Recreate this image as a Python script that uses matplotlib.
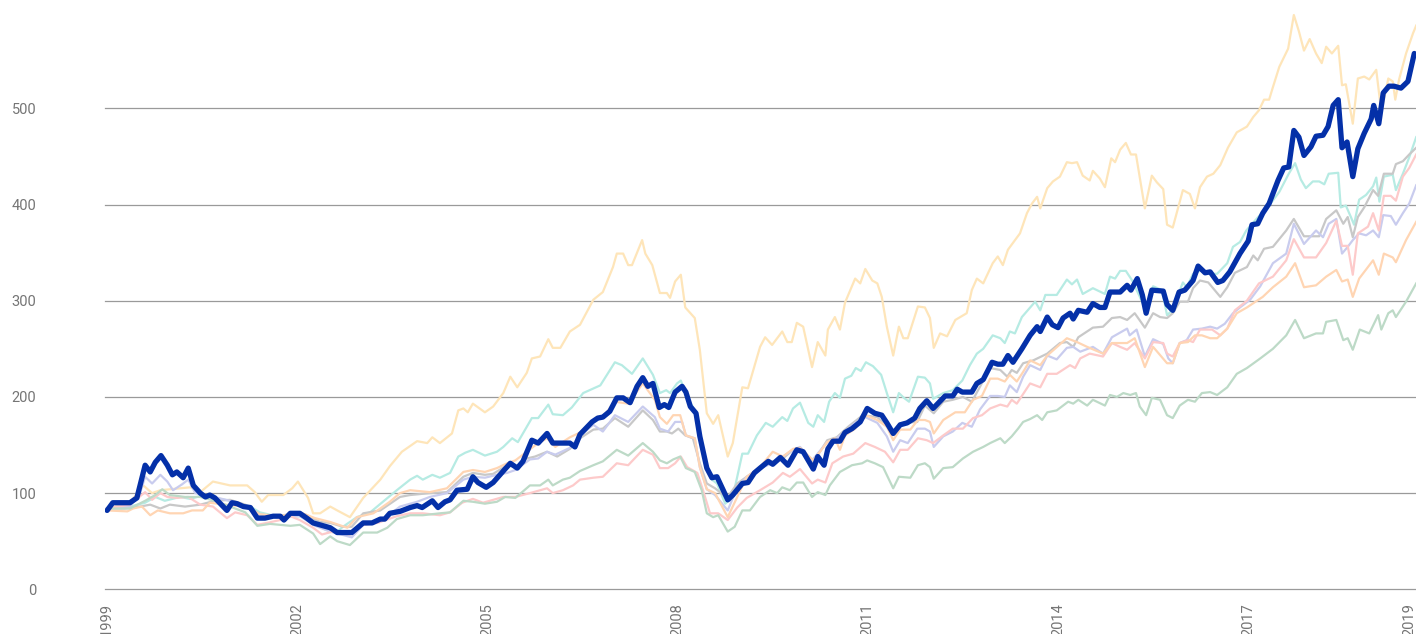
import matplotlib
matplotlib.use("Agg")
import matplotlib.pyplot as plt

plt.rcParams['font.family'] = ['Roboto', 'DejaVu Sans']

# ---- data (index values) ----
main_years = [1999.00, 1999.09, 1999.36, 1999.47, 1999.60, 1999.68, 1999.76, 1999.85, 1999.95, 2000.03,
              2000.10, 2000.20, 2000.28, 2000.36, 2000.47, 2000.55, 2000.62, 2000.70, 2000.89, 2000.97,
              2001.05, 2001.15, 2001.26, 2001.37, 2001.49, 2001.62, 2001.73, 2001.79, 2001.89, 2002.04,
              2002.15, 2002.25, 2002.41, 2002.52, 2002.63, 2002.86, 2003.04, 2003.18, 2003.31, 2003.38,
              2003.46, 2003.62, 2003.78, 2003.89, 2003.97, 2004.13, 2004.22, 2004.33, 2004.41, 2004.52,
              2004.68, 2004.77, 2004.85, 2004.98, 2005.09, 2005.25, 2005.36, 2005.47, 2005.56, 2005.70,
              2005.80, 2005.94, 2006.03, 2006.30, 2006.38, 2006.46, 2006.65, 2006.74, 2006.82, 2006.93,
              2007.04, 2007.14, 2007.25, 2007.36, 2007.45, 2007.53, 2007.61, 2007.71, 2007.79, 2007.86,
              2007.96, 2008.07, 2008.13, 2008.20, 2008.29, 2008.35, 2008.46, 2008.54, 2008.62, 2008.72,
              2008.79, 2008.87, 2009.02, 2009.11, 2009.21, 2009.30, 2009.43, 2009.50, 2009.62, 2009.74,
              2009.88, 2009.98, 2010.14, 2010.21, 2010.31, 2010.37, 2010.45, 2010.56, 2010.64, 2010.75,
              2010.88, 2010.99, 2011.11, 2011.22, 2011.30, 2011.40, 2011.51, 2011.62, 2011.74, 2011.82,
              2011.93, 2012.03, 2012.22, 2012.34, 2012.41, 2012.49, 2012.64, 2012.72, 2012.82, 2012.96,
              2013.05, 2013.13, 2013.21, 2013.29, 2013.43, 2013.56, 2013.67, 2013.72, 2013.83, 2013.91,
              2014.00, 2014.08, 2014.19, 2014.24, 2014.32, 2014.46, 2014.55, 2014.66, 2014.74, 2014.82,
              2014.98, 2015.09, 2015.15, 2015.25, 2015.33, 2015.39, 2015.48, 2015.66, 2015.72, 2015.81,
              2015.91, 2016.00, 2016.13, 2016.21, 2016.32, 2016.40, 2016.52, 2016.60, 2016.71, 2016.87,
              2017.00, 2017.06, 2017.15, 2017.23, 2017.33, 2017.47, 2017.56, 2017.64, 2017.72, 2017.80,
              2017.88, 2017.99, 2018.07, 2018.18, 2018.26, 2018.34, 2018.42, 2018.48, 2018.56, 2018.65,
              2018.73, 2018.83, 2018.94, 2018.98, 2019.06, 2019.13, 2019.22, 2019.30, 2019.41, 2019.52,
              2019.62]
main_vals = [82, 90, 90, 95, 129, 122, 132, 139, 129, 119,
             122, 116, 126, 108, 100, 96, 98, 95, 82, 90,
             89, 86, 85, 74, 74, 76, 76, 72, 79, 79,
             74, 69, 66, 64, 59, 59, 69, 69, 73, 73,
             79, 81, 85, 87, 85, 92, 85, 91, 93, 103,
             104, 117, 111, 106, 111, 123, 131, 126, 133, 155,
             152, 162, 152, 152, 148, 161, 174, 178, 179, 185,
             199, 199, 194, 211, 220, 211, 214, 189, 192, 189,
             205, 211, 205, 190, 183, 159, 126, 116, 117, 103,
             93, 98, 110, 111, 121, 126, 133, 130, 137, 129,
             145, 143, 125, 138, 129, 146, 154, 154, 163, 167,
             174, 188, 183, 181, 173, 162, 171, 173, 178, 188,
             196, 188, 201, 201, 208, 205, 205, 214, 218, 236,
             234, 234, 243, 236, 250, 264, 273, 268, 283, 275,
             272, 282, 287, 281, 290, 288, 297, 293, 293, 309,
             309, 316, 311, 323, 306, 287, 311, 310, 296, 290,
             309, 311, 321, 336, 329, 330, 319, 321, 330, 349,
             362, 379, 380, 391, 401, 425, 438, 439, 477, 470,
             451, 460, 471, 472, 481, 503, 509, 459, 465, 429,
             458, 474, 489, 503, 484, 516, 523, 523, 521, 528,
             557]

amber_years = [1999.00, 1999.36, 1999.57, 1999.71, 1999.84, 2000.31, 2000.47, 2000.67, 2000.94, 2001.21,
               2001.33, 2001.44, 2001.54, 2001.78, 2001.92, 2002.01, 2002.17, 2002.25, 2002.36, 2002.52,
               2002.63, 2002.83, 2003.04, 2003.31, 2003.46, 2003.65, 2003.89, 2004.05, 2004.13, 2004.25,
               2004.44, 2004.54, 2004.62, 2004.69, 2004.77, 2004.96, 2005.09, 2005.25, 2005.36, 2005.47,
               2005.62, 2005.70, 2005.83, 2005.96, 2006.03, 2006.15, 2006.30, 2006.46, 2006.67, 2006.82,
               2006.98, 2007.04, 2007.14, 2007.22, 2007.28, 2007.44, 2007.49, 2007.60, 2007.72, 2007.83,
               2007.88, 2007.96, 2008.05, 2008.12, 2008.27, 2008.35, 2008.46, 2008.56, 2008.64, 2008.79,
               2008.87, 2009.02, 2009.11, 2009.30, 2009.38, 2009.49, 2009.65, 2009.73, 2009.80, 2009.88,
               2009.98, 2010.12, 2010.21, 2010.33, 2010.37, 2010.48, 2010.56, 2010.64, 2010.80, 2010.88,
               2010.96, 2011.07, 2011.15, 2011.22, 2011.30, 2011.40, 2011.49, 2011.56, 2011.63, 2011.79,
               2011.90, 2011.98, 2012.04, 2012.14, 2012.25, 2012.38, 2012.56, 2012.64, 2012.72, 2012.82,
               2012.97, 2013.05, 2013.13, 2013.21, 2013.40, 2013.51, 2013.59, 2013.67, 2013.72, 2013.83,
               2013.92, 2014.03, 2014.14, 2014.22, 2014.30, 2014.39, 2014.50, 2014.55, 2014.66, 2014.74,
               2014.84, 2014.90, 2014.98, 2015.07, 2015.15, 2015.23, 2015.37, 2015.48, 2015.56, 2015.66,
               2015.72, 2015.81, 2015.97, 2016.08, 2016.16, 2016.24, 2016.35, 2016.45, 2016.56, 2016.68,
               2016.82, 2016.98, 2017.08, 2017.17, 2017.25, 2017.33, 2017.39, 2017.49, 2017.63, 2017.72,
               2017.80, 2017.88, 2017.97, 2018.07, 2018.16, 2018.23, 2018.32, 2018.42, 2018.48, 2018.54,
               2018.65, 2018.73, 2018.83, 2018.91, 2019.02, 2019.10, 2019.21, 2019.28, 2019.32, 2019.38,
               2019.49, 2019.60, 2019.65]
amber_vals = [84, 90, 108, 100, 103, 106, 101, 112, 108, 108,
              101, 91, 98, 98, 105, 112, 95, 79, 79, 86,
              82, 75, 95, 114, 128, 143, 154, 152, 158, 152,
              162, 186, 188, 184, 193, 184, 190, 204, 221, 210,
              225, 240, 242, 260, 251, 251, 268, 275, 301, 309,
              335, 349, 349, 337, 337, 363, 349, 337, 308, 308,
              303, 320, 327, 293, 282, 249, 183, 172, 181, 138,
              152, 210, 209, 252, 262, 254, 268, 257, 257, 277,
              273, 231, 257, 243, 270, 283, 270, 298, 323, 318,
              333, 321, 318, 304, 273, 243, 273, 261, 261, 294,
              293, 282, 251, 266, 263, 280, 287, 311, 323, 318,
              339, 346, 337, 353, 370, 391, 401, 408, 396, 417,
              424, 429, 444, 443, 444, 430, 425, 435, 427, 418,
              448, 444, 457, 464, 452, 452, 396, 430, 423, 416,
              379, 376, 415, 411, 396, 418, 429, 432, 441, 459,
              475, 481, 491, 498, 509, 509, 522, 543, 562, 597,
              580, 560, 572, 557, 547, 564, 557, 565, 524, 525,
              484, 531, 533, 530, 540, 496, 531, 528, 509, 530,
              557, 578, 586]

teal_years = [1999.00, 1999.36, 1999.60, 1999.76, 1999.91, 2000.15, 2000.31, 2000.47, 2000.70, 2000.94,
              2001.26, 2001.41, 2001.73, 2002.04, 2002.28, 2002.44, 2002.63, 2002.72, 2002.94, 2003.15,
              2003.35, 2003.57, 2003.78, 2003.89, 2003.98, 2004.13, 2004.25, 2004.41, 2004.54, 2004.65,
              2004.77, 2004.96, 2005.15, 2005.25, 2005.39, 2005.48, 2005.70, 2005.80, 2005.96, 2006.03,
              2006.19, 2006.33, 2006.51, 2006.78, 2007.01, 2007.12, 2007.28, 2007.45, 2007.61, 2007.72,
              2007.82, 2007.88, 2007.99, 2008.05, 2008.15, 2008.27, 2008.35, 2008.43, 2008.54, 2008.62,
              2008.75, 2008.87, 2009.02, 2009.11, 2009.25, 2009.39, 2009.50, 2009.65, 2009.73, 2009.82,
              2009.93, 2010.06, 2010.14, 2010.21, 2010.31, 2010.39, 2010.48, 2010.56, 2010.64, 2010.74,
              2010.81, 2010.89, 2010.97, 2011.08, 2011.21, 2011.30, 2011.40, 2011.49, 2011.57, 2011.65,
              2011.79, 2011.90, 2011.98, 2012.03, 2012.19, 2012.34, 2012.49, 2012.61, 2012.72, 2012.82,
              2012.97, 2013.09, 2013.16, 2013.24, 2013.32, 2013.43, 2013.56, 2013.64, 2013.72, 2013.80,
              2013.98, 2014.14, 2014.22, 2014.30, 2014.39, 2014.55, 2014.74, 2014.82, 2014.90, 2014.98,
              2015.07, 2015.17, 2015.29, 2015.39, 2015.50, 2015.64, 2015.72, 2015.80, 2015.97, 2016.03,
              2016.13, 2016.27, 2016.37, 2016.51, 2016.67, 2016.76, 2016.87, 2016.97, 2017.13, 2017.33,
              2017.49, 2017.64, 2017.74, 2017.83, 2017.91, 2018.02, 2018.12, 2018.20, 2018.27, 2018.42,
              2018.46, 2018.54, 2018.62, 2018.67, 2018.75, 2018.86, 2018.97, 2019.02, 2019.07, 2019.14,
              2019.28, 2019.33, 2019.44, 2019.54, 2019.65]
teal_vals = [84, 86, 90, 96, 92, 96, 94, 97, 95, 92,
             86, 80, 75, 76, 70, 62, 60, 65, 75, 80,
             91, 103, 114, 118, 114, 119, 116, 121, 138, 142,
             145, 139, 143, 148, 157, 153, 178, 178, 192, 182,
             181, 189, 204, 212, 236, 233, 224, 240, 223, 204,
             207, 204, 214, 217, 200, 186, 165, 131, 114, 110,
             89, 96, 141, 141, 160, 173, 169, 179, 175, 188,
             194, 173, 169, 181, 174, 195, 204, 199, 219, 222,
             230, 227, 236, 232, 223, 204, 184, 204, 199, 195,
             221, 220, 214, 198, 204, 207, 217, 233, 245, 250,
             264, 261, 256, 268, 266, 283, 293, 299, 290, 306,
             306, 322, 317, 322, 307, 313, 307, 325, 323, 331,
             331, 321, 304, 290, 315, 311, 285, 290, 319, 314,
             328, 332, 328, 328, 339, 356, 361, 373, 385, 399,
             413, 432, 443, 426, 417, 424, 424, 421, 432, 433,
             397, 399, 387, 379, 405, 410, 419, 428, 403, 429,
             431, 415, 432, 449, 470]

grey_years = [1999.00, 1999.28, 1999.52, 1999.68, 1999.84, 1999.99, 2000.23, 2000.47, 2000.70, 2000.94,
              2001.18, 2001.41, 2001.65, 2001.89, 2002.12, 2002.36, 2002.52, 2002.72, 2002.86, 2003.04,
              2003.31, 2003.62, 2003.78, 2004.09, 2004.36, 2004.62, 2004.77, 2004.96, 2005.09, 2005.31,
              2005.44, 2005.62, 2005.75, 2005.94, 2006.10, 2006.30, 2006.46, 2006.67, 2006.82, 2007.01,
              2007.22, 2007.45, 2007.61, 2007.72, 2007.83, 2007.91, 2008.01, 2008.12, 2008.24, 2008.35,
              2008.46, 2008.59, 2008.78, 2008.94, 2009.09, 2009.30, 2009.50, 2009.66, 2009.82, 2009.93,
              2010.14, 2010.36, 2010.51, 2010.69, 2010.92, 2011.15, 2011.38, 2011.56, 2011.78, 2011.90,
              2012.04, 2012.19, 2012.34, 2012.50, 2012.64, 2012.74, 2012.93, 2013.09, 2013.20, 2013.27,
              2013.35, 2013.45, 2013.61, 2013.83, 2014.03, 2014.14, 2014.24, 2014.32, 2014.55, 2014.71,
              2014.85, 2014.98, 2015.09, 2015.21, 2015.37, 2015.50, 2015.61, 2015.72, 2015.81, 2015.92,
              2016.05, 2016.13, 2016.24, 2016.37, 2016.56, 2016.67, 2016.79, 2016.98, 2017.08, 2017.15,
              2017.25, 2017.39, 2017.60, 2017.72, 2017.88, 2018.12, 2018.23, 2018.39, 2018.50, 2018.57,
              2018.65, 2018.73, 2018.83, 2018.97, 2019.05, 2019.14, 2019.28, 2019.33, 2019.44, 2019.54,
              2019.65]
grey_vals = [84, 84, 86, 88, 84, 88, 86, 88, 92, 93,
             88, 78, 76, 78, 78, 70, 69, 65, 65, 79,
             82, 96, 98, 100, 101, 117, 121, 119, 120, 129,
             127, 136, 138, 143, 138, 146, 157, 166, 167, 178,
             169, 186, 176, 164, 164, 162, 167, 160, 157, 131,
             110, 105, 95, 110, 117, 126, 133, 136, 145, 147,
             132, 155, 158, 169, 181, 179, 164, 173, 174, 191,
             183, 195, 197, 200, 195, 207, 230, 228, 221, 228,
             225, 235, 238, 245, 256, 257, 252, 262, 272, 273,
             282, 283, 280, 287, 272, 287, 283, 282, 287, 299,
             299, 313, 321, 319, 304, 314, 329, 335, 347, 342,
             354, 356, 373, 385, 367, 367, 385, 394, 380, 387,
             366, 387, 397, 415, 409, 432, 432, 442, 445, 452,
             459]

lilac_years = [1999.00, 1999.36, 1999.52, 1999.60, 1999.71, 1999.84, 1999.95, 2000.04, 2000.18, 2000.28,
               2000.39, 2000.62, 2000.94, 2001.18, 2001.41, 2001.73, 2002.04, 2002.28, 2002.52, 2002.86,
               2003.04, 2003.31, 2003.62, 2003.89, 2004.09, 2004.36, 2004.62, 2004.77, 2004.96, 2005.15,
               2005.31, 2005.44, 2005.67, 2005.80, 2005.94, 2006.07, 2006.30, 2006.46, 2006.67, 2006.82,
               2007.01, 2007.22, 2007.45, 2007.64, 2007.72, 2007.85, 2007.96, 2008.07, 2008.13, 2008.27,
               2008.35, 2008.46, 2008.59, 2008.79, 2008.94, 2009.09, 2009.30, 2009.50, 2009.66, 2009.82,
               2009.93, 2010.12, 2010.36, 2010.51, 2010.64, 2010.80, 2010.96, 2011.15, 2011.30, 2011.40,
               2011.51, 2011.63, 2011.78, 2011.90, 2011.98, 2012.04, 2012.19, 2012.34, 2012.49, 2012.64,
               2012.77, 2012.93, 2013.05, 2013.16, 2013.24, 2013.35, 2013.45, 2013.56, 2013.72, 2013.83,
               2013.98, 2014.14, 2014.24, 2014.35, 2014.55, 2014.71, 2014.85, 2015.09, 2015.13, 2015.24,
               2015.37, 2015.50, 2015.66, 2015.74, 2015.81, 2015.92, 2016.03, 2016.13, 2016.27, 2016.40,
               2016.51, 2016.63, 2016.76, 2016.87, 2017.03, 2017.19, 2017.39, 2017.60, 2017.72, 2017.88,
               2018.07, 2018.18, 2018.27, 2018.39, 2018.48, 2018.57, 2018.65, 2018.75, 2018.86, 2018.97,
               2019.06, 2019.13, 2019.25, 2019.33, 2019.44, 2019.54, 2019.65]
lilac_vals = [84, 86, 100, 117, 110, 119, 112, 103, 109, 114,
              100, 97, 92, 86, 75, 76, 76, 66, 60, 54,
              67, 70, 86, 91, 96, 100, 114, 117, 116, 119,
              121, 124, 135, 136, 143, 140, 147, 160, 171, 164,
              181, 174, 190, 179, 167, 164, 174, 174, 160, 157,
              127, 104, 98, 82, 106, 117, 126, 131, 138, 145,
              148, 134, 153, 157, 164, 173, 179, 173, 159, 143,
              155, 152, 167, 167, 164, 148, 159, 164, 173, 169,
              187, 201, 201, 200, 212, 205, 221, 233, 228, 243,
              239, 251, 252, 247, 252, 245, 262, 271, 264, 270,
              242, 260, 255, 240, 235, 256, 259, 270, 271, 273,
              271, 276, 287, 293, 301, 315, 339, 349, 380, 359,
              373, 366, 380, 385, 349, 356, 363, 370, 368, 373,
              366, 389, 388, 379, 391, 401, 420]

rose_years = [1999.00, 1999.36, 1999.60, 1999.71, 1999.84, 1999.95, 2000.10, 2000.28, 2000.47, 2000.67,
              2000.89, 2001.02, 2001.21, 2001.37, 2001.52, 2001.73, 2001.89, 2002.04, 2002.25, 2002.39,
              2002.56, 2002.83, 2003.04, 2003.26, 2003.57, 2003.78, 2003.98, 2004.25, 2004.41, 2004.60,
              2004.77, 2004.93, 2005.25, 2005.44, 2005.67, 2005.94, 2006.03, 2006.19, 2006.35, 2006.46,
              2006.67, 2006.82, 2007.04, 2007.22, 2007.45, 2007.61, 2007.72, 2007.85, 2007.96, 2008.05,
              2008.15, 2008.31, 2008.40, 2008.51, 2008.64, 2008.79, 2008.94, 2009.09, 2009.30, 2009.50,
              2009.66, 2009.77, 2009.93, 2010.12, 2010.21, 2010.33, 2010.44, 2010.61, 2010.77, 2010.96,
              2011.11, 2011.27, 2011.40, 2011.51, 2011.63, 2011.79, 2011.93, 2012.03, 2012.19, 2012.34,
              2012.50, 2012.66, 2012.80, 2012.93, 2013.09, 2013.20, 2013.27, 2013.35, 2013.45, 2013.56,
              2013.72, 2013.83, 2013.98, 2014.19, 2014.27, 2014.35, 2014.50, 2014.71, 2014.85, 2014.98,
              2015.09, 2015.21, 2015.37, 2015.50, 2015.66, 2015.72, 2015.81, 2015.92, 2016.05, 2016.13,
              2016.24, 2016.43, 2016.56, 2016.67, 2016.79, 2016.98, 2017.17, 2017.39, 2017.60, 2017.72,
              2017.88, 2018.07, 2018.23, 2018.39, 2018.48, 2018.57, 2018.65, 2018.73, 2018.89, 2018.97,
              2019.06, 2019.14, 2019.25, 2019.33, 2019.44, 2019.54, 2019.65]
rose_vals = [84, 88, 101, 93, 100, 96, 95, 96, 88, 86,
             74, 80, 77, 67, 69, 72, 76, 72, 64, 57,
             60, 57, 67, 69, 76, 79, 79, 77, 80, 90,
             94, 90, 96, 96, 100, 105, 100, 103, 108, 114,
             116, 117, 131, 129, 145, 140, 126, 126, 131, 138,
             127, 121, 103, 79, 79, 72, 85, 95, 103, 111,
             121, 117, 125, 110, 114, 111, 131, 138, 141, 152,
             148, 143, 132, 145, 145, 157, 155, 152, 160, 167,
             167, 178, 181, 188, 192, 190, 197, 193, 203, 214,
             210, 224, 224, 233, 230, 240, 245, 242, 256, 252,
             249, 256, 240, 257, 256, 245, 242, 256, 259, 257,
             270, 270, 264, 271, 290, 300, 318, 325, 342, 364,
             345, 345, 360, 383, 357, 357, 327, 370, 377, 391,
             373, 409, 409, 404, 429, 438, 452]

peach_years = [1999.00, 1999.32, 1999.41, 1999.55, 1999.68, 1999.80, 1999.99, 2000.20, 2000.34, 2000.51,
               2000.62, 2000.86, 2001.18, 2001.41, 2001.73, 2002.04, 2002.28, 2002.52, 2002.79, 2002.94,
               2003.20, 2003.46, 2003.62, 2003.78, 2004.09, 2004.36, 2004.62, 2004.77, 2004.96, 2005.15,
               2005.31, 2005.44, 2005.62, 2005.80, 2005.94, 2006.07, 2006.30, 2006.46, 2006.67, 2006.82,
               2007.01, 2007.22, 2007.45, 2007.64, 2007.72, 2007.83, 2007.93, 2008.04, 2008.13, 2008.27,
               2008.35, 2008.46, 2008.59, 2008.79, 2008.94, 2009.09, 2009.30, 2009.50, 2009.66, 2009.82,
               2009.93, 2010.14, 2010.36, 2010.48, 2010.56, 2010.64, 2010.80, 2010.96, 2011.15, 2011.30,
               2011.40, 2011.51, 2011.67, 2011.79, 2011.90, 2011.98, 2012.04, 2012.19, 2012.38, 2012.53,
               2012.66, 2012.80, 2012.93, 2013.05, 2013.16, 2013.24, 2013.35, 2013.45, 2013.56, 2013.72,
               2013.83, 2014.14, 2014.30, 2014.46, 2014.71, 2014.85, 2015.09, 2015.21, 2015.37, 2015.50,
               2015.72, 2015.81, 2015.92, 2016.05, 2016.16, 2016.27, 2016.40, 2016.51, 2016.67, 2016.82,
               2016.98, 2017.23, 2017.39, 2017.60, 2017.74, 2017.88, 2018.07, 2018.23, 2018.39, 2018.48,
               2018.57, 2018.65, 2018.75, 2018.97, 2019.06, 2019.14, 2019.28, 2019.33, 2019.49, 2019.65]
peach_vals = [82, 81, 84, 86, 77, 82, 79, 79, 82, 82,
              90, 88, 86, 78, 76, 80, 74, 70, 64, 75,
              79, 91, 100, 103, 101, 105, 122, 124, 122, 126,
              131, 134, 143, 152, 157, 148, 158, 163, 176, 179,
              195, 193, 214, 197, 179, 172, 181, 181, 160, 157,
              127, 104, 100, 75, 96, 117, 127, 143, 138, 146,
              147, 134, 153, 157, 145, 160, 167, 181, 176, 169,
              155, 166, 166, 176, 176, 174, 162, 176, 184, 184,
              197, 201, 219, 219, 216, 223, 216, 226, 238, 233,
              243, 261, 257, 252, 245, 256, 256, 261, 231, 252,
              235, 235, 256, 257, 264, 264, 261, 261, 271, 287,
              293, 304, 314, 325, 339, 314, 316, 325, 332, 320,
              322, 304, 323, 342, 327, 349, 345, 340, 363, 382]

sage_years = [1999.00, 1999.36, 1999.60, 1999.76, 1999.87, 1999.99, 2000.23, 2000.47, 2000.70, 2000.94,
              2001.18, 2001.37, 2001.57, 2001.89, 2002.04, 2002.25, 2002.36, 2002.52, 2002.63, 2002.83,
              2003.04, 2003.26, 2003.42, 2003.57, 2003.78, 2003.98, 2004.25, 2004.41, 2004.62, 2004.77,
              2004.96, 2005.15, 2005.28, 2005.44, 2005.67, 2005.83, 2005.96, 2006.03, 2006.19, 2006.30,
              2006.46, 2006.67, 2006.82, 2007.04, 2007.22, 2007.45, 2007.61, 2007.72, 2007.83, 2007.93,
              2008.04, 2008.13, 2008.27, 2008.38, 2008.46, 2008.56, 2008.64, 2008.79, 2008.90, 2009.02,
              2009.14, 2009.30, 2009.46, 2009.57, 2009.65, 2009.77, 2009.88, 2009.98, 2010.12, 2010.21,
              2010.33, 2010.40, 2010.56, 2010.75, 2010.91, 2010.99, 2011.11, 2011.24, 2011.40, 2011.49,
              2011.67, 2011.79, 2011.90, 2011.98, 2012.04, 2012.19, 2012.34, 2012.50, 2012.66, 2012.82,
              2012.93, 2013.09, 2013.16, 2013.27, 2013.37, 2013.45, 2013.56, 2013.67, 2013.75, 2013.83,
              2013.98, 2014.16, 2014.24, 2014.32, 2014.46, 2014.55, 2014.74, 2014.82, 2014.93, 2015.03,
              2015.14, 2015.23, 2015.29, 2015.39, 2015.48, 2015.61, 2015.72, 2015.81, 2015.92, 2016.05,
              2016.16, 2016.27, 2016.40, 2016.51, 2016.67, 2016.82, 2016.98, 2017.19, 2017.39, 2017.60,
              2017.74, 2017.88, 2018.07, 2018.18, 2018.23, 2018.39, 2018.50, 2018.57, 2018.65, 2018.76,
              2018.91, 2019.05, 2019.10, 2019.21, 2019.28, 2019.33, 2019.49, 2019.65]
sage_vals = [84, 84, 92, 98, 104, 98, 96, 96, 92, 86,
             80, 66, 68, 66, 67, 58, 47, 55, 50, 46,
             59, 59, 64, 73, 77, 77, 79, 80, 92, 91,
             89, 91, 96, 95, 108, 108, 114, 108, 114, 116,
             123, 129, 133, 145, 139, 152, 143, 134, 131, 135,
             138, 126, 122, 103, 79, 75, 77, 60, 65, 82,
             82, 96, 103, 100, 106, 103, 111, 111, 96, 101,
             98, 108, 122, 129, 131, 134, 131, 127, 105, 117,
             116, 129, 131, 127, 115, 126, 127, 136, 143, 148,
             152, 157, 152, 159, 167, 174, 177, 181, 176, 184,
             186, 195, 193, 197, 191, 197, 191, 202, 200, 204,
             202, 204, 190, 181, 199, 197, 181, 178, 191, 197,
             195, 204, 205, 202, 210, 224, 230, 240, 250, 264,
             280, 261, 266, 266, 278, 280, 259, 261, 249, 270,
             266, 285, 270, 287, 290, 283, 299, 318]

tick_years = [1999, 2002, 2005, 2008, 2011, 2014, 2017, 2019.55]
tick_labels = ['1999', '2002', '2005', '2008', '2011', '2014', '2017', '2019']
grid_levels = [0, 100, 200, 300, 400, 500]

# ---- figure ----
fig = plt.figure(figsize=(14.16, 6.34), dpi=100)
ax = fig.add_axes([0.0742, 0.0705, 0.9258, 0.9295])

pale = [
    (amber_years, amber_vals, '#fee5b9'),
    (teal_years, teal_vals, '#b6ebe3'),
    (grey_years, grey_vals, '#c8c8c8'),
    (lilac_years, lilac_vals, '#c9ccee'),
    (rose_years, rose_vals, '#fdcaca'),
    (peach_years, peach_vals, '#ffd5b3'),
    (sage_years, sage_vals, '#bddac7'),
]
for xs, ys, col in pale:
    ax.plot(xs, ys, color=col, lw=1.6, solid_joinstyle='round', zorder=2)

ax.plot(main_years, main_vals, color='#0430a8', lw=3.8,
        solid_joinstyle='round', solid_capstyle='round', zorder=5)

# horizontal gridlines (0 line sits on the axes edge, so don't clip it)
for g in grid_levels:
    ax.axhline(g, color='#9a9a9a', lw=0.9, zorder=1, clip_on=False)

ax.set_xlim(1998.968, 2019.647)
ax.set_ylim(0, 612.6)
ax.set_yticks(grid_levels)
ax.set_yticklabels([str(g) for g in grid_levels])
ax.set_xticks(tick_years)
ax.set_xticklabels(tick_labels, rotation=90)
ax.tick_params(axis='y', length=0, pad=49.5, labelsize=10.5, labelcolor='#757575')
ax.tick_params(axis='x', length=0, pad=10, labelsize=10.5, labelcolor='#757575')
for lab in ax.get_xticklabels():
    lab.set_va('top')
for s in ax.spines.values():
    s.set_visible(False)

fig.savefig('out.png', dpi=100)
